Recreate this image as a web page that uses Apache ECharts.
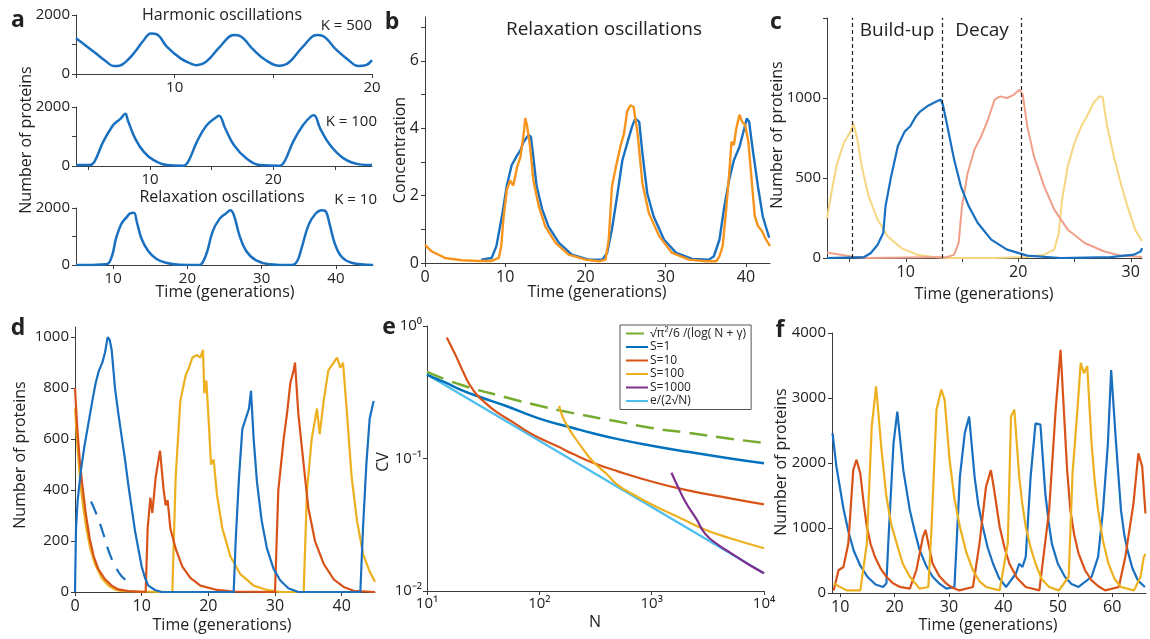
<!DOCTYPE html>
<html>
<head>
<meta charset="utf-8">
<script src="https://cdn.jsdelivr.net/npm/echarts@6/dist/echarts.min.js"></script>
<style>
html,body{margin:0;padding:0;background:#fff}
#main{width:1150px;height:639px}
</style>
</head>
<body>
<div id="main"></div>
<script>
// ---- panel a: three stochastic traces ----
var a1Time = [5, 5.5, 6, 6.5, 6.9, 7.2, 7.6, 8, 8.4, 8.8, 9.1, 9.6, 10.3, 10.8, 11.1, 11.6, 12.3, 13, 13.3, 14, 14.6, 15.3, 15.8, 16.5, 17.2, 17.5, 18.2, 18.8, 19.3, 19.7, 20];
var a1Count = [1210, 960, 700, 440, 270, 280, 460, 760, 1120, 1370, 1340, 930, 530, 360, 300, 420, 930, 1320, 1290, 815, 475, 280, 400, 930, 1320, 1290, 815, 475, 270, 300, 470];
var a2Time = [4, 5.1, 5.5, 6.2, 7, 7.3, 7.6, 8, 8.2, 8.8, 9.5, 10.3, 11.4, 12.7, 13.1, 13.8, 14.6, 15.4, 15.6, 16.1, 16.8, 17.8, 18.9, 20.5, 20.9, 21.6, 22.4, 23.1, 23.3, 23.8, 24.6, 25.7, 27, 28];
var a2Count = [30, 30, 150, 820, 1380, 1500, 1600, 1775, 1550, 930, 480, 200, 30, 10, 150, 820, 1380, 1660, 1700, 1270, 710, 260, 30, 10, 150, 820, 1380, 1700, 1720, 1270, 710, 260, 55, 30];
var a3Time = [5, 9.1, 9.8, 10.4, 11.1, 11.8, 12.3, 12.8, 13.2, 13.8, 14.7, 15.8, 17.1, 18.9, 21.6, 22.1, 22.7, 23.4, 24.3, 25.2, 25.8, 26.3, 27, 27.9, 29.2, 31, 34.1, 34.8, 35.4, 36.3, 37.2, 38.1, 38.6, 39.2, 39.9, 40.8, 42.1, 45];
var a3Count = [0, 30, 280, 940, 1440, 1670, 1810, 1830, 1500, 940, 500, 220, 80, 10, 0, 110, 500, 1170, 1610, 1810, 1920, 1720, 1050, 500, 170, 30, 0, 140, 610, 1390, 1780, 1920, 1890, 1390, 720, 280, 80, 0];

// ---- panel b: concentration, two runs ----
var bOrangeTime = [0, 0.8, 2.5, 4.6, 6.7, 8.3, 9.2, 9.5, 9.8, 10.2, 10.6, 11, 11.5, 11.9, 12.3, 12.5, 12.7, 13.1, 13.5, 14.2, 15, 16.3, 17.9, 20, 21.7, 22.5, 22.9, 23.3, 23.8, 24.4, 24.8, 25.2, 25.6, 26, 26.5, 27.1, 27.9, 29.2, 30.8, 32.9, 35, 36.3, 36.7, 37.1, 37.5, 37.9, 38.2, 38.5, 38.8, 39.2, 39.5, 39.9, 40.3, 40.7, 41.1, 41.5, 42, 42.5, 43];
var bOrangeConc = [0.54, 0.35, 0.15, 0.08, 0.06, 0.06, 0.15, 0.5, 1.38, 2.17, 2.45, 2.3, 2.86, 3.15, 3.84, 4.3, 4.1, 3.45, 2.46, 1.67, 1.08, 0.59, 0.25, 0.1, 0.05, 0.1, 0.69, 2.27, 2.86, 3.5, 3.84, 4.5, 4.68, 4.63, 3.84, 2.36, 1.48, 0.79, 0.3, 0.1, 0.05, 0.05, 0.2, 0.5, 1.5, 2.6, 3.6, 3.5, 4.0, 4.4, 4.2, 4.1, 3.6, 2.5, 1.4, 1.1, 0.95, 0.7, 0.5];
var bBlueTime = [7, 8.3, 8.9, 9.6, 10.2, 10.8, 11.5, 11.9, 12.3, 12.9, 13.2, 13.5, 13.9, 14.6, 15.4, 16.7, 18.3, 20.4, 22.1, 22.7, 23.3, 24, 24.6, 25.2, 25.8, 26.2, 26.7, 27.1, 27.7, 28.5, 29.8, 31.3, 33.3, 35.4, 36, 36.7, 37.3, 37.9, 38.5, 39.2, 39.8, 40.1, 40.4, 40.8, 41.5, 42.1, 42.9];
var bBlueConc = [0.1, 0.15, 0.5, 1.4, 2.3, 2.9, 3.2, 3.35, 3.6, 3.8, 3.75, 3.15, 2.3, 1.6, 1.08, 0.6, 0.25, 0.1, 0.1, 0.3, 1.0, 2.07, 3.05, 3.55, 4.04, 4.29, 4.19, 3.25, 2.07, 1.38, 0.69, 0.3, 0.12, 0.1, 0.2, 0.69, 1.67, 2.46, 3.05, 3.45, 4.0, 4.29, 4.19, 3.45, 2.27, 1.38, 0.75];

// ---- panel c: build-up / decay ----
var cPhaseX = [5.2, 13.2, 20.3];
var cYellowTime = [3, 3.5, 3.9, 4.5, 5.1, 5.35, 5.7, 6.1, 6.7, 7.5, 8.4, 9.6, 11, 12.5, 13.7, 17.9, 20.8, 22.3, 23.2, 23.6, 23.9, 24.4, 25, 25.6, 26.1, 26.7, 27.2, 27.5, 27.9, 28.5, 29.1, 29.7, 30.4, 31];
var cYellowCount = [250, 450, 590, 720, 790, 840, 740, 570, 385, 240, 135, 62, 21, 6, 0, 0, 6, 21, 52, 156, 365, 573, 720, 823, 885, 970, 1010, 1006, 823, 635, 470, 323, 177, 104];
var cBlueTime = [3, 6.3, 6.9, 7.5, 8, 8.2, 8.7, 9.3, 9.9, 10.4, 10.9, 11.3, 11.9, 12.5, 13.1, 13.3, 13.7, 14.3, 14.9, 15.6, 16.4, 17.6, 19, 20.8, 23.8, 28.2, 30.3, 30.9, 31];
var cBlueCount = [0, 6, 31, 83, 156, 323, 510, 700, 790, 823, 885, 917, 948, 970, 990, 958, 823, 615, 448, 323, 219, 115, 52, 15, 0, 6, 21, 42, 62];
var cSalmonTime = [3, 4.2, 5.4, 6.6, 13.7, 14.3, 14.7, 15, 15.5, 16.1, 16.7, 17.3, 17.9, 18.4, 19, 19.6, 20.1, 20.4, 20.8, 21.4, 22.3, 23.2, 24.4, 25.9, 27.6, 29.1, 31];
var cSalmonCount = [35, 21, 6, 0, 6, 21, 94, 323, 530, 677, 760, 864, 990, 1010, 1000, 1020, 1052, 1020, 823, 635, 448, 302, 177, 94, 42, 15, 6];

// ---- panel d: three species ----
var dBlueTime = [0, 0.15, 0.4, 0.9, 1.4, 2, 2.6, 3.1, 3.6, 4.1, 4.5, 4.9, 5.2, 5.5, 6, 6.5, 7, 7.5, 8, 8.5, 9, 9.5, 10, 10.5, 11, 12, 13, 23.8, 24.1, 24.6, 25.1, 25.6, 26.1, 26.4, 26.8, 27.3, 28, 28.8, 29.8, 30.8, 32, 33.5, 42.8, 43.2, 43.7, 44.2, 44.8];
var dBlueCount = [0, 250, 360, 480, 570, 660, 750, 820, 870, 900, 940, 1000, 990, 950, 800, 700, 610, 520, 420, 330, 240, 170, 100, 55, 25, 8, 0, 0, 200, 450, 640, 680, 720, 790, 600, 430, 280, 170, 90, 45, 15, 0, 0, 250, 500, 680, 750];
var dDashTime = [2.4, 3.3, 4.4, 5.2, 6.1, 7, 8.1];
var dDashCount = [355, 300, 216, 150, 98, 62, 39];
var dRedTime = [0, 0.3, 0.7, 1.1, 1.6, 2.2, 2.8, 3.5, 4.5, 5.5, 6.5, 8, 10.6, 10.9, 11.3, 11.6, 12.1, 12.75, 13.3, 13.6, 13.9, 14.3, 15.1, 16.1, 17.3, 18.8, 21.3, 23.8, 30, 30.5, 31.3, 31.8, 32.3, 32.8, 33, 33.5, 34.3, 35, 36, 37.3, 38.8, 40.3, 41.8, 45];
var dRedCount = [800, 660, 520, 420, 310, 210, 140, 90, 50, 25, 10, 4, 0, 250, 370, 310, 450, 555, 400, 340, 360, 250, 170, 100, 55, 25, 8, 2, 0, 400, 600, 700, 820, 870, 900, 700, 500, 330, 200, 110, 50, 20, 5, 0];
var dYellowTime = [0, 0.4, 0.8, 1.2, 1.7, 2.3, 3, 4, 5, 6, 7, 14.6, 15.1, 15.8, 16.6, 17.1, 17.6, 18.3, 18.8, 19.2, 19.4, 19.7, 20.1, 20.4, 20.8, 21.3, 22.1, 23.3, 24.8, 26.8, 28.8, 30.8, 34.3, 34.8, 35.5, 36.3, 36.7, 37.3, 38, 38.8, 39.3, 39.8, 40.2, 40.8, 41.5, 42.3, 43.2, 44.2, 45];
var dYellowCount = [720, 560, 430, 340, 250, 170, 110, 55, 25, 10, 3, 0, 450, 750, 850, 880, 920, 930, 920, 950, 780, 830, 650, 500, 520, 380, 250, 140, 70, 25, 8, 0, 0, 400, 600, 720, 620, 750, 870, 900, 920, 880, 900, 700, 450, 280, 150, 80, 40];

// ---- panel e: CV against N (log-log) ----
var eGreenN = [10, 20, 50, 100, 200, 500, 1000, 2000, 5000, 10000];
var eGreenCV = [0.45, 0.36, 0.29, 0.25, 0.22, 0.19, 0.17, 0.157, 0.141, 0.131];
var eS1N = [10, 12, 15, 20, 30, 50, 100, 200, 300, 500, 1000, 2000, 5000, 10000];
var eS1CV = [0.43, 0.4, 0.37, 0.33, 0.29, 0.25, 0.2, 0.17, 0.155, 0.14, 0.125, 0.113, 0.1, 0.092];
var eS10N = [15, 18, 21, 24, 28, 32, 40, 60, 80, 100, 150, 200, 300, 500, 1000, 2000, 5000, 10000];
var eS10CV = [0.82, 0.6, 0.45, 0.36, 0.3, 0.27, 0.23, 0.185, 0.158, 0.143, 0.122, 0.108, 0.093, 0.08, 0.067, 0.058, 0.05, 0.045];
var eS100N = [150, 160, 175, 200, 250, 300, 400, 500, 700, 1000, 2000, 3000, 5000, 10000];
var eS100CV = [0.25, 0.21, 0.18, 0.15, 0.115, 0.095, 0.076, 0.063, 0.053, 0.045, 0.034, 0.029, 0.025, 0.021];
var eS1000N = [1500, 1700, 2000, 2500, 3000, 4000, 5000, 7000, 10000];
var eS1000CV = [0.078, 0.062, 0.047, 0.035, 0.027, 0.022, 0.0195, 0.0162, 0.0136];
var eSqrtN = [10, 100, 1000, 10000];
var eSqrtCV = [0.43, 0.136, 0.043, 0.0136];
var eLegend = ['\u221A\u03C0\u00B2/6 /(log( N + \u03B3)', 'S=1', 'S=10', 'S=100', 'S=1000', 'e/(2\u221AN)'];

// ---- panel f: repressilator with larger counts ----
var fBlueTime = [8.6, 9.3, 10, 10.6, 11.5, 12.5, 13.7, 15, 16.5, 17.9, 18.5, 18.8, 19.8, 20.5, 21.6, 22.8, 23.7, 24.6, 25.8, 27, 28.3, 29.5, 31, 32, 32.9, 33.7, 34.7, 35.4, 36.2, 37.1, 38.1, 39.2, 40.5, 42.3, 42.9, 43.5, 44.1, 45, 45.9, 46.8, 47.7, 48.3, 48.9, 50, 51.3, 52.5, 53.8, 56.2, 57.4, 58.3, 59.2, 59.8, 60.7, 61.6, 62.2, 62.8, 63.7, 64.7, 66];
var fBlueCount = [2460, 1950, 1600, 1300, 950, 650, 420, 250, 130, 93, 150, 700, 2300, 2790, 1890, 1275, 950, 660, 420, 250, 140, 67, 93, 1790, 2460, 2715, 1790, 1350, 1020, 700, 450, 230, 93, 300, 450, 400, 555, 1790, 2610, 2590, 1530, 1100, 760, 450, 250, 140, 93, 250, 555, 1275, 2300, 3430, 2300, 1275, 900, 660, 380, 195, 93];
var fRedTime = [8.8, 9.7, 10.6, 11.5, 12.4, 13, 13.7, 14.3, 14.9, 15.6, 16.4, 17.4, 18.5, 19.7, 21, 22.8, 24, 25.2, 25.7, 26.2, 27, 28.2, 29.5, 30.7, 31.9, 34.4, 35.6, 36.8, 37.7, 38.3, 39.3, 40.2, 41.1, 42.5, 44.1, 46.6, 48.4, 49.6, 50.5, 51.1, 51.7, 52.3, 53, 53.8, 55, 56.2, 57.5, 58.7, 61.2, 62.4, 63.9, 64.8, 65.5, 66.1];
var fRedCount = [40, 350, 400, 760, 1890, 2050, 1840, 1400, 1020, 750, 555, 380, 250, 150, 93, 67, 350, 860, 970, 760, 450, 260, 145, 80, 40, 93, 760, 1635, 1890, 1585, 1020, 700, 450, 230, 93, 40, 1275, 2820, 3740, 2820, 1900, 1275, 900, 610, 350, 195, 100, 40, 93, 555, 1380, 2150, 1945, 1225];
var fYellowTime = [8.8, 11.2, 13.7, 14.9, 15.8, 16.6, 17.6, 18.5, 19.4, 20.4, 21.5, 22.8, 24.6, 26.2, 26.8, 27.7, 28.6, 29.2, 30.1, 31, 32, 33.2, 34.4, 35.6, 36.8, 39.3, 40.8, 41.4, 42, 42.9, 43.5, 44.1, 45, 45.9, 47, 48.4, 50.2, 52, 52.7, 53.6, 54.2, 54.8, 55.4, 56.2, 56.8, 57.4, 58.3, 59.3, 60.4, 61.6, 64, 65.2, 65.8, 66.1];
var fYellowCount = [145, 40, 40, 760, 2560, 3180, 2200, 1480, 1050, 760, 450, 250, 67, 93, 1020, 2820, 3130, 2970, 2050, 1450, 1020, 620, 350, 180, 93, 40, 760, 2715, 2820, 1790, 1350, 1020, 700, 450, 220, 93, 40, 250, 1840, 2820, 3540, 3380, 3490, 2300, 1700, 1275, 800, 450, 220, 93, 40, 250, 555, 600];

var FONT = 'Open Sans';
var AX = '#3c3c3c';
var BLUE = '#1a70c0', ORANGE = '#f7941d', RED = '#d95319', YELLOW = '#edb120';

function zip(xs, ys) {
    return xs.map(function (x, i) { return [x, ys[i]]; });
}

function axis(g, min, max, labels, ticks, size) {
    return {
        type: 'value', gridIndex: g, min: min, max: max,
        axisLine: {show: true, onZero: false, lineStyle: {color: AX, width: 1}},
        axisTick: {show: true, length: 4, lineStyle: {color: AX}, customValues: ticks},
        axisLabel: {
            color: '#222', fontSize: size || 15, fontFamily: FONT, margin: 6, customValues: labels,
            formatter: function (v) { return String(v); }
        },
        splitLine: {show: false}
    };
}

var SUP = {'-': '\u207B', '0': '\u2070', '1': '\u00B9', '2': '\u00B2', '3': '\u00B3', '4': '\u2074'};
function logAxis(g, min, max) {
    return {
        type: 'log', logBase: 10, gridIndex: g, min: min, max: max,
        axisLine: {show: true, onZero: false, lineStyle: {color: AX, width: 1}},
        axisTick: {show: true, length: 4, lineStyle: {color: AX}},
        axisLabel: {
            color: '#222', fontSize: 15, fontFamily: FONT, margin: 5,
            formatter: function (v) {
                var p = String(Math.round(Math.log(v) / Math.LN10));
                return '10' + p.split('').map(function (c) { return SUP[c]; }).join('');
            }
        },
        splitLine: {show: false}
    };
}

function line(i, xs, ys, color, width, extra) {
    var s = {
        type: 'line', xAxisIndex: i, yAxisIndex: i, data: zip(xs, ys),
        symbol: 'none', showSymbol: false, clip: true,
        lineStyle: {color: color, width: width}, itemStyle: {color: color}
    };
    for (var k in extra) s[k] = extra[k];
    return s;
}

function txt(x, y, text, size, opt) {
    opt = opt || {};
    return {
        type: 'text', x: x, y: y, rotation: opt.rot || 0, silent: true,
        style: {
            text: text, fill: '#222', fontFamily: FONT, fontSize: size,
            fontWeight: opt.bold ? 'bold' : 'normal',
            align: opt.align || 'center', verticalAlign: 'middle'
        }
    };
}

var grids = [
    {left: 76, top: 15, width: 296, height: 59},    // a1
    {left: 76, top: 107, width: 296, height: 59},   // a2
    {left: 76, top: 208, width: 297, height: 57},   // a3
    {left: 425, top: 17, width: 345, height: 246},  // b
    {left: 827, top: 18, width: 315, height: 240},  // c
    {left: 75, top: 327, width: 300, height: 265},  // d
    {left: 427, top: 326, width: 337, height: 265}, // e
    {left: 832, top: 333, width: 314, height: 260}  // f
];

var xAxes = [
    axis(0, 5, 20, [10, 20], [5, 10, 15, 20]),
    axis(1, 4, 28, [10, 20], [5, 10, 15, 20, 25]),
    axis(2, 5, 45, [10, 20, 30, 40], [10, 20, 30, 40]),
    axis(3, 0, 43, [0, 10, 20, 30, 40], [0, 10, 20, 30, 40], 16),
    axis(4, 3, 31, [10, 20, 30], [5, 10, 15, 20, 25, 30], 16),
    axis(5, 0, 45, [0, 10, 20, 30, 40], [0, 10, 20, 30, 40], 16),
    logAxis(6, 10, 10000),
    axis(7, 8.5, 66.2, [10, 20, 30, 40, 50, 60], [10, 20, 30, 40, 50, 60], 16)
];
var yAxes = [
    axis(0, 0, 2000, [0, 2000], [0, 1000, 2000]),
    axis(1, 0, 2000, [0, 2000], [0, 1000, 2000]),
    axis(2, 0, 2000, [0, 2000], [0, 1000, 2000]),
    axis(3, 0, 7.3, [0, 2, 4, 6], [0, 1, 2, 3, 4, 5, 6, 7], 16),
    axis(4, 0, 1500, [0, 500, 1000], [0, 500, 1000, 1500]),
    axis(5, 0, 1040, [0, 200, 400, 600, 800, 1000], [0, 200, 400, 600, 800, 1000]),
    logAxis(6, 0.01, 1),
    axis(7, 0, 4000, [0, 1000, 2000, 3000, 4000], [0, 1000, 2000, 3000, 4000])
];

var series = [
    line(0, a1Time, a1Count, BLUE, 2.5, {smooth: 0.4}),
    line(1, a2Time, a2Count, BLUE, 2.5, {smooth: 0.4}),
    line(2, a3Time, a3Count, BLUE, 2.5, {smooth: 0.4}),
    line(3, bBlueTime, bBlueConc, BLUE, 2.4),
    line(3, bOrangeTime, bOrangeConc, ORANGE, 2.4),
    line(4, cYellowTime, cYellowCount, '#f7d681', 2, {
        markLine: {
            silent: true, symbol: 'none', label: {show: false},
            lineStyle: {color: '#222', type: [4, 3], width: 1.2},
            data: cPhaseX.map(function (v) { return {xAxis: v}; })
        }
    }),
    line(4, cSalmonTime, cSalmonCount, '#f0a088', 2),
    line(4, cBlueTime, cBlueCount, BLUE, 2.2),
    line(5, dYellowTime, dYellowCount, YELLOW, 2.2),
    line(5, dRedTime, dRedCount, RED, 2.2),
    line(5, dBlueTime, dBlueCount, BLUE, 2.2),
    line(5, dDashTime, dDashCount, BLUE, 2.2, {smooth: true, lineStyle: {color: BLUE, width: 2.2, type: [14, 10]}}),
    line(6, eSqrtN, eSqrtCV, '#4dbeee', 2.2, {name: eLegend[5]}),
    line(6, eGreenN, eGreenCV, '#77ac30', 2.5, {name: eLegend[0], smooth: true, lineStyle: {color: '#77ac30', width: 2.5, type: [18, 9]}}),
    line(6, eS1N, eS1CV, '#0072bd', 2.5, {name: eLegend[1], smooth: true}),
    line(6, eS10N, eS10CV, RED, 2.2, {name: eLegend[2], smooth: true}),
    line(6, eS100N, eS100CV, YELLOW, 2.2, {name: eLegend[3], smooth: true}),
    line(6, eS1000N, eS1000CV, '#7e2f8e', 2.2, {name: eLegend[4], smooth: true}),
    line(7, fBlueTime, fBlueCount, BLUE, 2.2),
    line(7, fRedTime, fRedCount, RED, 2.2),
    line(7, fYellowTime, fYellowCount, YELLOW, 2.2)
];

var graphics = [
    txt(18, 20, 'a', 23, {bold: true}),
    txt(392, 22, 'b', 23, {bold: true}),
    txt(776, 22, 'c', 23, {bold: true}),
    txt(18, 328, 'd', 23, {bold: true}),
    txt(389, 327, 'e', 23, {bold: true}),
    txt(780, 330, 'f', 23, {bold: true}),
    txt(222, 15, 'Harmonic oscillations', 16),
    txt(372, 26, 'K = 500', 15, {align: 'right'}),
    txt(377, 122, 'K = 100', 15, {align: 'right'}),
    txt(222, 197, 'Relaxation oscillations', 16),
    txt(377, 200, 'K = 10', 15, {align: 'right'}),
    txt(26, 140, 'Number of proteins', 16, {rot: Math.PI / 2}),
    txt(225, 292, 'Time (generations)', 16),
    txt(604, 30, 'Relaxation oscillations', 19),
    txt(400, 150, 'Concentration', 16, {rot: Math.PI / 2}),
    txt(597, 292, 'Time (generations)', 16),
    txt(897, 31, 'Build-up', 19),
    txt(982, 31, 'Decay', 19),
    txt(777, 135, 'Number of proteins', 16, {rot: Math.PI / 2}),
    txt(984, 294, 'Time (generations)', 16),
    txt(20, 455, 'Number of proteins', 16, {rot: Math.PI / 2}),
    txt(222, 625, 'Time (generations)', 16),
    txt(383, 462, 'CV', 16, {rot: Math.PI / 2}),
    txt(595, 622, 'N', 16),
    txt(781, 462, 'Number of proteins', 16, {rot: Math.PI / 2}),
    txt(988, 625, 'Time (generations)', 16)
];

var chart = echarts.init(document.getElementById('main'), null, {renderer: 'canvas'});
chart.setOption({
    animation: false,
    backgroundColor: '#fff',
    grid: grids,
    xAxis: xAxes,
    yAxis: yAxes,
    series: series,
    legend: {
        data: eLegend, orient: 'vertical', left: 620, top: 325,
        itemWidth: 22, itemHeight: 12, itemGap: 0.5, padding: [2, 5],
        borderColor: '#555', borderWidth: 1, backgroundColor: '#fff',
        itemStyle: {opacity: 0},
        textStyle: {fontFamily: FONT, fontSize: 12, color: '#222', lineHeight: 13, padding: [0, 0, 0, -3]},
        selectedMode: false
    },
    graphic: graphics
});
</script>
</body>
</html>
